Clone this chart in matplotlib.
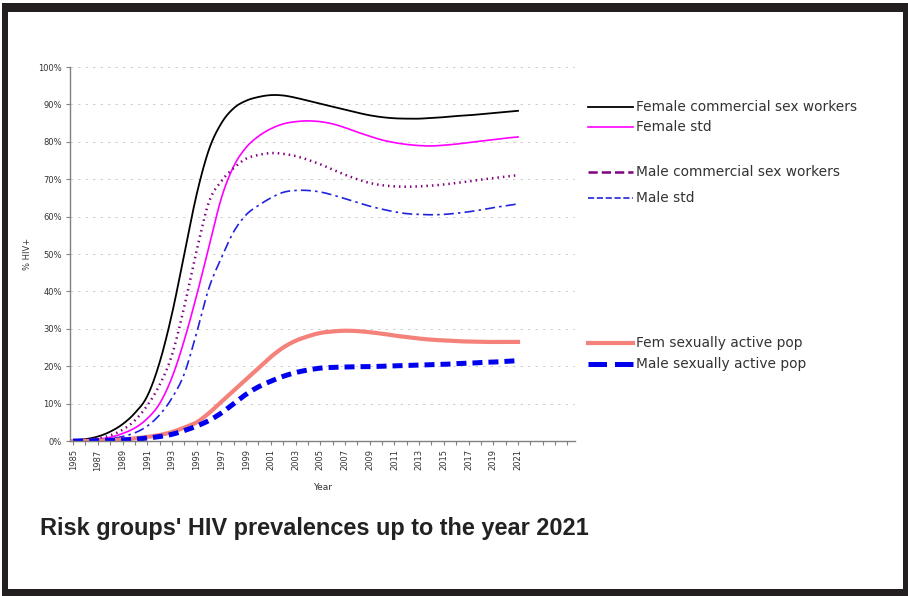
import matplotlib
matplotlib.use("Agg")
import matplotlib.pyplot as plt
from matplotlib.lines import Line2D
from matplotlib.patches import Rectangle
import numpy as np

years = np.arange(1985, 2022)

female_csw = [0.2, 0.5, 1.2, 2.5, 4.5, 7.5, 12, 21, 34, 50, 66, 78, 85, 89, 91,
              92, 92.5, 92.4, 91.8, 91, 90.2, 89.4, 88.6, 87.8, 87.1, 86.6, 86.3,
              86.2, 86.2, 86.4, 86.6, 86.9, 87.1, 87.4, 87.7, 88.0, 88.3]
female_std = [0, 0.2, 0.5, 1, 2, 3.5, 6, 10, 17, 27, 39, 52, 65, 73.5, 78.5,
              81.5, 83.5, 84.8, 85.4, 85.6, 85.4, 84.8, 83.8, 82.6, 81.5, 80.5,
              79.8, 79.3, 79.0, 78.9, 79.1, 79.4, 79.8, 80.2, 80.6, 81.0, 81.3]
male_csw = [0, 0.3, 0.7, 1.5, 3, 5.5, 9.5, 15, 23, 36, 51, 64, 69.5, 73, 75.5,
            76.5, 77, 76.8, 76.2, 75.2, 74, 72.6, 71.2, 70, 69, 68.4, 68.1, 68,
            68.1, 68.3, 68.6, 69, 69.4, 69.9, 70.3, 70.7, 71.1]
male_std = [0, 0.1, 0.3, 0.6, 1.2, 2.2, 4, 7, 11.5, 18, 29, 41, 49, 56, 60.5,
            63, 65, 66.5, 67, 67, 66.6, 65.8, 64.8, 63.8, 62.8, 62, 61.3, 60.8,
            60.6, 60.5, 60.6, 60.9, 61.3, 61.8, 62.4, 62.9, 63.4]
fem_active = [0, 0, 0.1, 0.2, 0.4, 0.7, 1.1, 1.6, 2.4, 3.6, 5, 7.5, 10.5, 13.5,
              16.5, 19.5, 22.5, 25, 26.8, 28, 28.9, 29.3, 29.5, 29.4, 29.1, 28.7,
              28.2, 27.8, 27.4, 27.1, 26.9, 26.7, 26.6, 26.5, 26.5, 26.5, 26.5]
male_active = [0, 0, 0.1, 0.2, 0.3, 0.5, 0.8, 1.2, 1.8, 2.8, 4, 5.5, 7.5, 10,
               12.5, 14.5, 16, 17.3, 18.3, 19, 19.5, 19.7, 19.8, 19.9, 19.9, 20,
               20.1, 20.2, 20.3, 20.4, 20.5, 20.7, 20.8, 21, 21.1, 21.3, 21.5]

labels = ["Female commercial sex workers", "Female std",
          "Male commercial sex workers", "Male std",
          "Fem sexually active pop", "Male sexually active pop"]


def smooth(x, y, steps=12):
    """Catmull-Rom curve through the points, like a spreadsheet's smoothed line."""
    x = np.asarray(x, float)
    y = np.asarray(y, float)
    px = np.concatenate([[2 * x[0] - x[1]], x, [2 * x[-1] - x[-2]]])
    py = np.concatenate([[2 * y[0] - y[1]], y, [2 * y[-1] - y[-2]]])
    t = np.linspace(0, 1, steps, endpoint=False)[:, None]
    out = []
    for p in (px, py):
        p0, p1, p2, p3 = p[:-3], p[1:-2], p[2:-1], p[3:]
        seg = 0.5 * ((2 * p1) + (-p0 + p2) * t + (2 * p0 - 5 * p1 + 4 * p2 - p3) * t ** 2
                     + (-p0 + 3 * p1 - 3 * p2 + p3) * t ** 3)
        out.append(np.concatenate([seg.T.ravel(), [p[-2]]]))
    return out[0], out[1]


fig = plt.figure(figsize=(9.08, 5.96), dpi=100)

# dark frame round the whole picture
fig.patches.append(Rectangle((0.0022, 0.0), 0.9978, 0.995, transform=fig.transFigure,
                             facecolor="#231f20", edgecolor="none", zorder=-2))
fig.patches.append(Rectangle((0.0088, 0.0117), 0.9857, 0.9682, transform=fig.transFigure,
                             facecolor="white", edgecolor="none", zorder=-1))

ax = fig.add_axes([0.0771, 0.260, 0.556, 0.6275])
ax.set_facecolor("none")

styles = [
    dict(color="black", lw=1.3, ls="-"),
    dict(color="#ff00ff", lw=1.2, ls="-"),
    dict(color="#800080", lw=1.8, ls=(0, (0.6, 1.6)), dash_capstyle="butt"),
    dict(color="#2222dd", lw=1.2, ls=(0, (6, 2.5, 1.5, 2.5))),
    dict(color="#f4827a", lw=3.0, ls="-"),
    dict(color="#0000ee", lw=3.6, ls=(0, (2, 1.2))),
]
series = [female_csw, female_std, male_csw, male_std, fem_active, male_active]

lines = []
for vals, st, lab in zip(series, styles, labels):
    sx, sy = smooth(years, np.array(vals) / 100.0)
    ln, = ax.plot(sx, sy, label=lab, **st)
    lines.append(ln)

ax.set_xlim(1984.75, 2025.6)
ax.set_ylim(0, 1.0)
ax.set_yticks(np.arange(0, 1.01, 0.1))
ax.set_yticklabels([f"{int(round(v * 100))}%" for v in np.arange(0, 1.01, 0.1)])
ax.set_xticks(np.arange(1985, 2026), minor=True)
ax.set_xticks(np.arange(1985, 2022, 2))
ax.set_xticklabels([str(y) for y in range(1985, 2022, 2)], rotation=90)

ax.yaxis.grid(True, color="#c8c8c8", lw=0.6, ls=(0, (3, 6)))
ax.set_axisbelow(True)
for side in ("top", "right"):
    ax.spines[side].set_visible(False)
for side in ("left", "bottom"):
    ax.spines[side].set_color("#808080")
    ax.spines[side].set_linewidth(1.0)
ax.tick_params(axis="both", which="both", color="#808080", length=3, width=0.8,
               labelsize=6, labelcolor="#333333", pad=3)
ax.set_xlabel("Year", fontsize=6.5, color="#333333", labelpad=9)
ax.set_ylabel("% HIV+", fontsize=6, color="#333333", labelpad=4)

# legend drawn beside the plot, in three groups
leg_y = [107, 127, 172, 198, 343, 364]
for ln, lab, ypx in zip(lines, labels, leg_y):
    yf = 1 - ypx / 596.0
    fig.add_artist(Line2D([588 / 908.0, 633 / 908.0], [yf, yf], transform=fig.transFigure,
                          color=ln.get_color(), lw=ln.get_linewidth(),
                          ls=ln.get_linestyle()))
    fig.text(636 / 908.0, yf, lab, fontsize=9.9, color="#333333", va="center", ha="left",
             family="DejaVu Sans")

fig.text(40 / 908.0, 1 - 529 / 596.0, "Risk groups' HIV prevalences up to the year 2021",
         fontsize=16.9, fontweight="bold", color="#222222", va="center", ha="left",
         family="Liberation Sans")

fig.savefig("out.png", dpi=100)
